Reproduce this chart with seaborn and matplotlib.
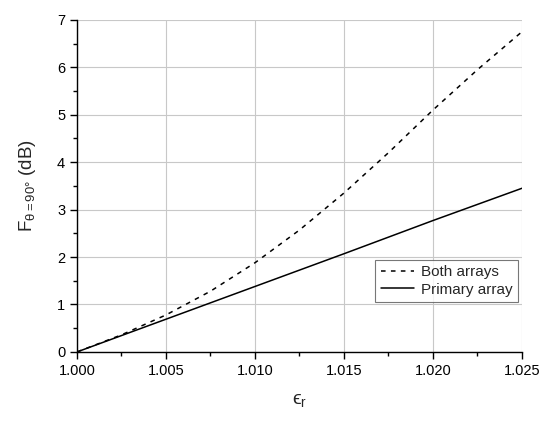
import pandas as pd
import matplotlib.pyplot as plt
import seaborn as sns
from matplotlib.ticker import MultipleLocator

# permittivity values and gain readings (dB)
eps_both = [1.000, 1.0025, 1.005, 1.0075, 1.010, 1.0125, 1.015, 1.0175, 1.020, 1.0225, 1.025]
f_both = [0.0, 0.36, 0.78, 1.28, 1.88, 2.57, 3.35, 4.20, 5.10, 5.95, 6.75]
eps_primary = [1.000, 1.005, 1.010, 1.015, 1.020, 1.025]
f_primary = [0.0, 0.69, 1.38, 2.07, 2.77, 3.45]

sns.set_style('white')
plt.rcParams['font.family'] = ['Liberation Sans', 'DejaVu Sans']
plt.rcParams['mathtext.fontset'] = 'custom'
plt.rcParams['mathtext.rm'] = 'Liberation Sans'
plt.rcParams['mathtext.it'] = 'Liberation Sans'

df_both = pd.DataFrame({'eps': eps_both, 'F': f_both})
df_primary = pd.DataFrame({'eps': eps_primary, 'F': f_primary})

fig = plt.figure(figsize=(5.5, 4.23), dpi=100)
ax = fig.add_axes([0.14, 0.168, 0.809, 0.785])

sns.lineplot(data=df_both, x='eps', y='F', ax=ax, color='black', lw=1.1,
             linestyle=(0, (3, 3.5)), label='Both arrays')
sns.lineplot(data=df_primary, x='eps', y='F', ax=ax, color='black', lw=1.1,
             label='Primary array')

ax.set_xlim(1.000, 1.025)
ax.set_ylim(0, 7)
ax.xaxis.set_major_locator(MultipleLocator(0.005))
ax.xaxis.set_minor_locator(MultipleLocator(0.0025))
ax.yaxis.set_major_locator(MultipleLocator(1))
ax.yaxis.set_minor_locator(MultipleLocator(0.5))
ax.xaxis.set_major_formatter(plt.FormatStrFormatter('%.3f'))

ax.grid(True, which='major', color='#c8c8c8', lw=0.8)
ax.set_axisbelow(True)
for s in ['top', 'right']:
    ax.spines[s].set_visible(False)
for s in ['left', 'bottom']:
    ax.spines[s].set_color('black')
    ax.spines[s].set_linewidth(1.0)

ax.tick_params(which='major', direction='out', length=5, width=1, colors='black',
               labelsize=10.5, bottom=True, left=True)
ax.tick_params(which='minor', direction='out', length=3, width=1, colors='black',
               bottom=True, left=True)

ax.set_xlabel('ϵ$_r$', fontsize=14, labelpad=10)
ax.set_ylabel(r'F$_{\theta=90°}$ (dB)', fontsize=13.5, labelpad=14)

leg = ax.legend(loc='lower right', bbox_to_anchor=(0.99, 0.15), fontsize=11,
                frameon=True, fancybox=False, edgecolor='#555555', handlelength=2.2,
                handletextpad=0.4, borderpad=0.35, labelspacing=0.25,
                borderaxespad=0)
leg.get_frame().set_linewidth(0.8)

fig.savefig('out.png', dpi=100)
